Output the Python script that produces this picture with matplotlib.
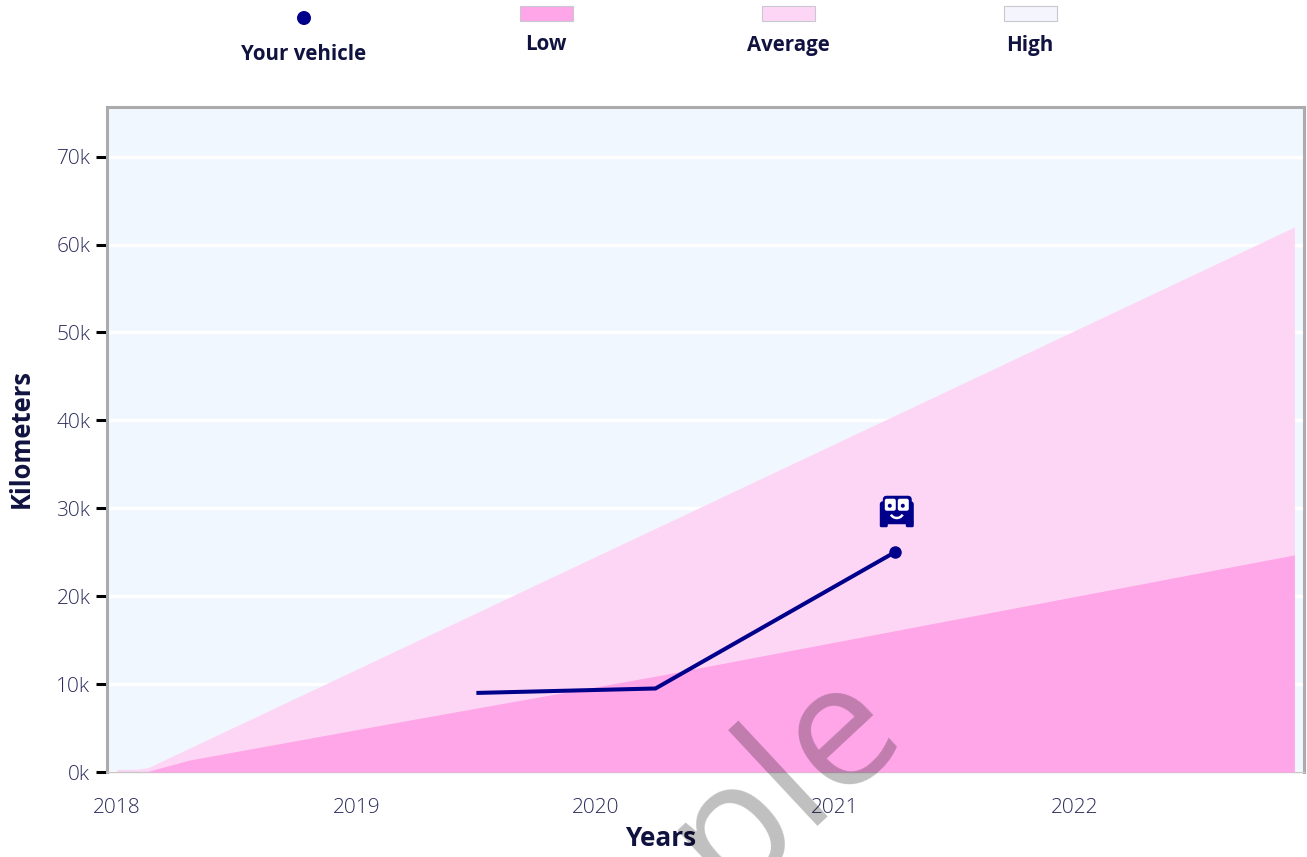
import matplotlib
matplotlib.use('Agg')
import matplotlib.pyplot as plt
from matplotlib.patches import Circle, Rectangle, FancyBboxPatch, Wedge
from matplotlib.transforms import Affine2D

plt.rcParams['font.family'] = ['Open Sans', 'DejaVu Sans']

W, H = 1307, 857

avg_years = [2018.0, 2018.08, 2018.13, 2022.92]
avg_km = [300, 300, 500, 62000]
low_years = [2018.0, 2018.12, 2018.3, 2019.18, 2020.25, 2022.92]
low_km = [0, 0, 1350, 5700, 10900, 24700]
vehicle_years = [2019.51, 2020.25, 2021.25]
vehicle_km = [9000, 9500, 25000]

y_ticks = [0, 10000, 20000, 30000, 40000, 50000, 60000, 70000]
y_labels = ['0k', '10k', '20k', '30k', '40k', '50k', '60k', '70k']
x_ticks = [2018, 2019, 2020, 2021, 2022]
legend_names = ['Low', 'Average', 'High']
legend_colors = ['#ffa6e8', '#fed6f5', '#f5f5fd']

TEXT = '#10123f'
TICK = '#2c2c5c'
NAVY = '#00008b'


def pixel_rect(left, top, right, bottom):
    return [left / W, 1 - bottom / H, (right - left) / W, (bottom - top) / H]


def add_icon(fig, ax, year, km):
    # little car with a face, placed relative to the last point
    px, py = ax.transData.transform((year, km))
    tr = Affine2D().translate(px, py)
    shapes = [
        FancyBboxPatch((-12, 44), 29, 12.5, boxstyle='round,pad=0,rounding_size=4', fc=NAVY, ec='none'),
        FancyBboxPatch((-15, 28), 34, 23, boxstyle='round,pad=0,rounding_size=3', fc=NAVY, ec='none'),
        FancyBboxPatch((-15, 25), 8, 6, boxstyle='round,pad=0,rounding_size=1.5', fc=NAVY, ec='none'),
        FancyBboxPatch((11, 25), 8, 6, boxstyle='round,pad=0,rounding_size=1.5', fc=NAVY, ec='none'),
        FancyBboxPatch((-10, 41.5), 11, 12, boxstyle='round,pad=0,rounding_size=2', fc='white', ec='none'),
        FancyBboxPatch((3, 41.5), 11, 12, boxstyle='round,pad=0,rounding_size=2', fc='white', ec='none'),
        Circle((-5, 46.5), 2, fc=NAVY, ec='none'),
        Circle((8, 46.5), 2, fc=NAVY, ec='none'),
        Wedge((2, 41), 8, 210, 330, width=2.5, fc='white', ec='none'),
    ]
    for s in shapes:
        s.set_transform(tr)
        s.set_zorder(6)
        fig.add_artist(s)


def main():
    fig = plt.figure(figsize=(W / 100, H / 100), dpi=100)
    ax = fig.add_axes(pixel_rect(107, 107, 1304, 772))
    ax.set_facecolor('#f0f7ff')
    ax.set_xlim(2017.958, 2022.96)
    ax.set_ylim(0, 75650)

    ax.yaxis.grid(True, color='white', lw=2.5, zorder=1)
    ax.set_axisbelow(True)
    ax.fill_between(avg_years, avg_km, color=legend_colors[1], lw=0, zorder=2)
    ax.fill_between(low_years, low_km, color=legend_colors[0], lw=0, zorder=3)
    ax.plot(vehicle_years, vehicle_km, color=NAVY, lw=2.9, zorder=4, solid_joinstyle='miter')
    ax.plot(vehicle_years[-1:], vehicle_km[-1:], 'o', color=NAVY, ms=9, mew=0, zorder=5)

    ax.set_yticks(y_ticks, y_labels, fontweight='light')
    ax.set_xticks(x_ticks, [str(x) for x in x_ticks], fontweight='light')
    ax.tick_params(axis='y', length=8, width=2.2, color='black', labelcolor=TICK, labelsize=15, pad=4)
    ax.tick_params(axis='x', length=0, labelcolor=TICK, labelsize=15, pad=19)
    for side in ['left', 'top', 'right']:
        ax.spines[side].set_color('#ababab')
        ax.spines[side].set_linewidth(2.2)
    ax.spines['bottom'].set_color('#c8c8c8')
    ax.spines['bottom'].set_linewidth(1)

    fig.text(661 / W, 1 - 839 / H, 'Years', ha='center', va='center',
             fontsize=18.8, fontweight='bold', color=TEXT)
    fig.text(21 / W, 1 - 439 / H, 'Kilometers', rotation=90, ha='center', va='center',
             fontsize=18.4, fontweight='bold', color=TEXT)

    # legend across the top
    fig.add_artist(Circle((304, H - 18), 7, fc=NAVY, ec='none', transform=None))
    fig.text(304 / W, 1 - 54 / H, 'Your vehicle', ha='center', va='center',
             fontsize=14.8, fontweight='bold', color=TEXT)
    for name, color, cx in zip(legend_names, legend_colors, [546, 788, 1030]):
        fig.add_artist(Rectangle((cx - 26.5, H - 21), 53, 15, fc=color, ec='#c8c8d0', lw=0.8, transform=None))
        fig.text(cx / W, 1 - 45 / H, name, ha='center', va='center',
                 fontsize=14.8, fontweight='bold', color=TEXT)

    add_icon(fig, ax, vehicle_years[-1], vehicle_km[-1])

    # watermark, mostly running off the bottom of the page
    fig.text(908 / W, 1 - 734 / H, 'Sample', rotation=43, rotation_mode='anchor',
             ha='right', va='baseline', fontsize=124, color='black', alpha=0.25, zorder=10)

    fig.savefig('out.png', dpi=100)


if __name__ == '__main__':
    main()
